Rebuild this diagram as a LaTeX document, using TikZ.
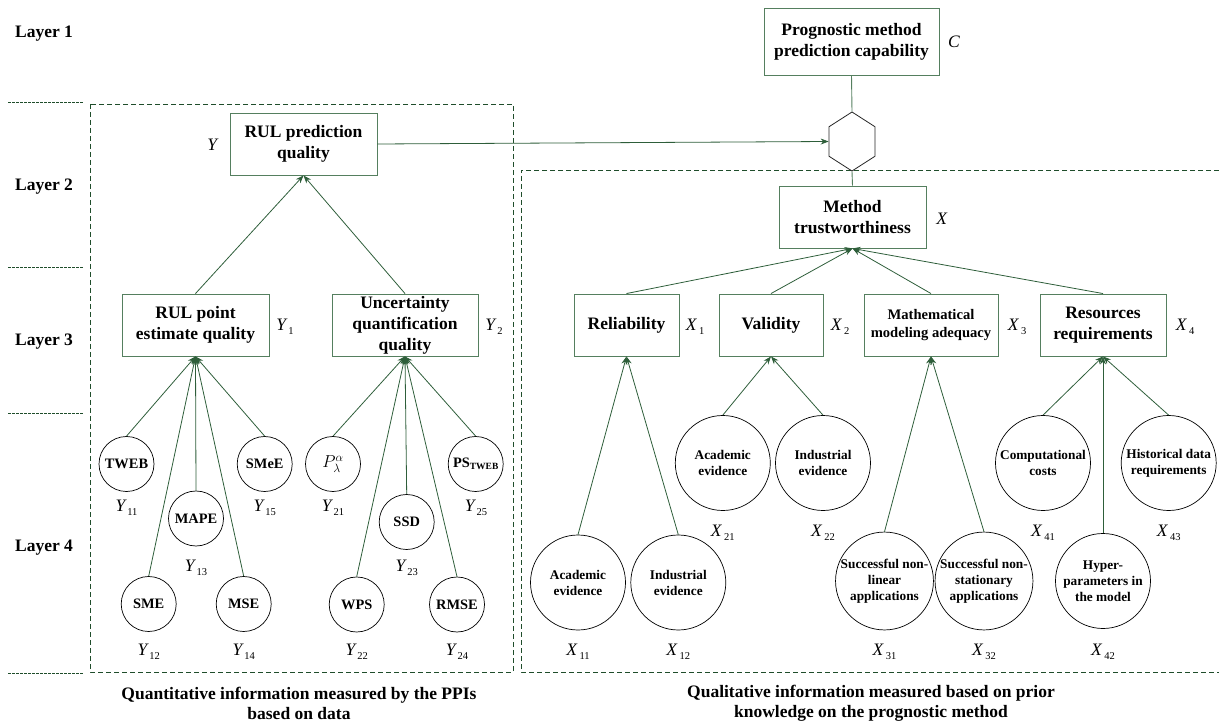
\documentclass[tikz,border=0pt]{standalone}
\usepackage{fontspec}
\setmainfont{Liberation Serif}
\usetikzlibrary{arrows.meta,shapes.geometric}
\definecolor{darkgreen}{HTML}{1F4D2B}
\definecolor{boxgreen}{HTML}{557F5F}
\definecolor{edgegreen}{HTML}{2E5E3A}

\begin{document}
\begin{tikzpicture}[x=1pt,y=-1pt,
  layer/.style={font=\fontsize{17.5}{20}\selectfont\bfseries},
  metric/.style={rectangle,draw=boxgreen,line width=0.9pt,minimum height=62pt,inner sep=0pt,align=center,font=\fontsize{17.5}{21}\selectfont\bfseries},
  ppi/.style={circle,draw=black,line width=0.7pt,minimum size=55pt,inner sep=0pt,align=center,font=\fontsize{14.4}{16}\selectfont\bfseries},
  prior/.style={circle,draw=black,line width=0.7pt,minimum size=95pt,inner sep=0pt,align=center,font=\fontsize{13.3}{16}\selectfont\bfseries},
  symlabel/.style={inner sep=0pt,font=\fontsize{17.5}{20}\selectfont},
  uplink/.style={draw=edgegreen,line width=0.8pt,-{Stealth[length=8pt,width=6pt]}},
  plainlink/.style={draw=boxgreen,line width=0.9pt},
  dashbox/.style={draw=darkgreen,line width=0.8pt,dash pattern=on 5pt off 3pt},
  layerline/.style={draw=darkgreen,line width=0.7pt,dash pattern=on 2.5pt off 1.5pt}]
  \newcommand{\symidx}[2]{\textit{#1}\kern0.5pt\raisebox{-3.5pt}{\fontsize{10.5}{11}\selectfont #2}}
  \useasboundingbox (0,0) rectangle (1219,727);
  % Layer names
  \foreach \n/\y in {1/34,2/187,3/342,4/548} {\node[layer] (L\n) at (44,\y) {Layer \n};}
  % Short dashed separators
  \foreach \y in {102,267,413,673} {\draw[layerline] (8,\y) -- (83,\y);}
  % Dashed frames
  \draw[dashbox] (90,104) rectangle (513,672);
  \draw[dashbox] (1219,170) -- (521,170) -- (521,672) -- (1219,672);
  % Layer 1
  \node[metric,minimum width=175pt,minimum height=67pt] (C) at (851.5,41.5) {Prognostic method\\prediction capability};
  \node[symlabel] (symC) at (954,42) {\textit{C}};
  \begin{scope}[shift={(852,141.5)},xscale=0.9]
    \node[regular polygon,regular polygon sides=6,shape border rotate=30,draw=black!85,line width=0.8pt,minimum size=59pt,inner sep=0pt,transform shape] (H) at (0,0) {};
  \end{scope}
  % Layer 2
  \node[metric,minimum width=147pt] (Y) at (303.5,144) {RUL prediction\\quality};
  \node[symlabel] (symY) at (213,145) {\textit{Y}};
  \node[metric,minimum width=147pt] (X) at (852.5,217) {Method\\trustworthiness};
  \node[symlabel] (symX) at (942,219) {\textit{X}};
  % Layer 3
  \node[metric,minimum width=147pt] (Y1) at (195.5,325) {RUL point\\estimate quality};
  \node[metric,minimum width=146pt] (Y2) at (405,325) {Uncertainty\\quantification\\quality};
  \node[metric,minimum width=105pt] (X1) at (626.5,325) {Reliability};
  \node[metric,minimum width=104pt] (X2) at (771,325) {Validity};
  \node[metric,minimum width=134pt,font=\fontsize{14.6}{17.5}\selectfont\bfseries] (X3) at (931,325) {Mathematical\\modeling adequacy};
  \node[metric,minimum width=126pt] (X4) at (1103,325) {Resources\\requirements};
  \foreach \n/\x in {1/285,2/494} {\node[symlabel] (symY\n) at (\x,327) {\symidx{Y}{\n}};}
  \foreach \n/\x in {1/695,2/840,3/1017,4/1185} {\node[symlabel] (symX\n) at (\x,327) {\symidx{X}{\kern1.5pt\n}};}
  % Layer 4, PPI circles
  \foreach \n/\txt/\x/\y/\ly in {11/TWEB/126.5/464/508, 12/SME/148.7/604/652, 13/MAPE/196/518.5/568, 14/MSE/243.7/604/652, 15/SMeE/264.7/464/508,
      22/WPS/356.7/604.5/652, 23/SSD/406.7/522/568, 24/RMSE/457/604.5/652} {
    \node[ppi] (Y\n) at (\x,\y) {\txt};
    \node[symlabel] (symY\n) at (\x,\ly) {\symidx{Y}{\n}};
  }
  \node[ppi,font=\fontsize{17}{18}\selectfont] (Y21) at (333,464) {$P_{\lambda}^{\alpha}$};
  \node[symlabel] (symY21) at (333,508) {\symidx{Y}{21}};
  \node[ppi] (Y25) at (475.7,464) {PS\raisebox{-2pt}{\fontsize{9.5}{10}\selectfont TWEB}};
  \node[symlabel] (symY25) at (476,508) {\symidx{Y}{25}};
  % Layer 4, prior knowledge circles
  \foreach \n/\txt/\x/\y/\ly in {11/{Academic\\evidence}/578/582.5/652, 12/{Industrial\\evidence}/678.3/582.5/652,
      21/{Academic\\evidence}/722.8/463/533, 22/{Industrial\\evidence}/823/463/533,
      31/{Successful non-\\linear\\applications}/884.5/581/652, 32/{Successful non-\\stationary\\applications}/984/581/652,
      41/{Computational\\costs}/1043/463/533, 42/{Hyper-\\parameters in\\the model}/1103/581/652, 43/{Historical data\\requirements}/1168.7/463/533} {
    \node[prior] (X\n) at (\x,\y) {\txt};
    \node[symlabel] (symX\n) at (\x,\ly) {\symidx{X}{\kern1.5pt\n}};
  }
  % Arrows
  \foreach \n in {11,...,15} {\draw[uplink] (Y\n.north) -- (Y1.south);}
  \foreach \n in {21,...,25} {\draw[uplink] (Y\n.north) -- (Y2.south);}
  \foreach \n in {1,2} {\draw[uplink] (Y\n.north) -- (Y.south);}
  \foreach \n in {1,2} {\draw[uplink] (X1\n.north) -- (X1.south); \draw[uplink] (X2\n.north) -- (X2.south); \draw[uplink] (X3\n.north) -- (X3.south);}
  \foreach \n in {1,2,3} {\draw[uplink] (X4\n.north) -- (X4.south);}
  \foreach \n in {1,...,4} {\draw[uplink] (X\n.north) -- (X.south);}
  \draw[uplink] (Y.east) -- (H.west);
  \draw[plainlink] (C.south) -- (H.north);
  \draw[plainlink] (H.south) -- (X.north);
  % Captions
  \node[layer,align=center] (capY) at (299,703) {Quantitative information measured by the PPIs\\based on data};
  \node[layer,align=center] (capX) at (871,703) {Qualitative information measured based on prior\\knowledge on the prognostic method};
\end{tikzpicture}
\end{document}
